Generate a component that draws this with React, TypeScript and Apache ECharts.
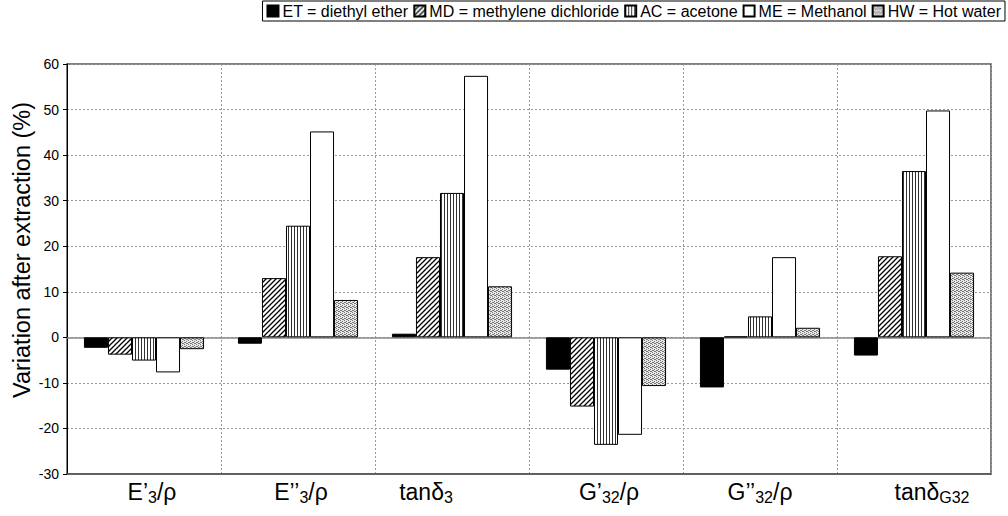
import React, { useEffect, useRef } from "react";
import * as echarts from "echarts";

const categories = ["E’3/ρ", "E’’3/ρ", "tanδ3", "G’32/ρ", "G’’32/ρ", "tanδG32"];
const categoryRich = [
  "{a|E’}{s|3}{a|/ρ}",
  "{a|E’’}{s|3}{a|/ρ}",
  "{a|tanδ}{s|3}",
  "{a|G’}{s|32}{a|/ρ}",
  "{a|G’’}{s|32}{a|/ρ}",
  "{a|tanδ}{s|G32}",
];
const seriesNames = [
  "ET = diethyl ether",
  "MD = methylene dichloride",
  "AC = acetone",
  "ME = Methanol",
  "HW = Hot water",
];
const ET = [-2.3, -1.4, 0.8, -7.1, -11.0, -4.0];
const MD = [-3.8, 13.0, 17.6, -15.2, 0.2, 17.8];
const AC = [-5.1, 24.5, 31.7, -23.6, 4.6, 36.5];
const ME = [-7.7, 45.2, 57.4, -21.4, 17.6, 49.8];
const HW = [-2.6, 8.2, 11.2, -10.7, 2.1, 14.2];
const yTicks = { min: -30, max: 60, interval: 10 };
const yTitle = "Variation after extraction (%)";

// layout: horizontal shift of each category label (px, + = right)
const LABEL_SHIFT = [8, 3, -26, 3, 0, 18];

const FONT = "'Liberation Sans', Arial, sans-serif";

function makePattern(kind: string): any {
  const c = document.createElement("canvas");
  const ctx = c.getContext("2d")!;
  if (kind === "diag") {
    c.width = 5; c.height = 5;
    ctx.fillStyle = "#fff"; ctx.fillRect(0, 0, 5, 5);
    ctx.strokeStyle = "#000"; ctx.lineWidth = 1.3;
    ctx.beginPath();
    ctx.moveTo(-1, 6); ctx.lineTo(6, -1);
    ctx.moveTo(-1, 1); ctx.lineTo(1, -1);
    ctx.moveTo(4, 6); ctx.lineTo(6, 4);
    ctx.stroke();
  } else if (kind === "vert") {
    c.width = 3; c.height = 3;
    ctx.fillStyle = "#fff"; ctx.fillRect(0, 0, 3, 3);
    ctx.fillStyle = "#333"; ctx.fillRect(0, 0, 1, 3);
  } else {
    c.width = 4; c.height = 4;
    ctx.fillStyle = "#e8e8e8"; ctx.fillRect(0, 0, 4, 4);
    ctx.fillStyle = "#777";
    ctx.fillRect(0, 0, 1, 1); ctx.fillRect(2, 1, 1, 1);
    ctx.fillRect(1, 2, 1, 1); ctx.fillRect(3, 3, 1, 1);
    ctx.fillRect(2, 3, 1, 1); ctx.fillRect(0, 2, 1, 1);
  }
  return { image: c, repeat: "repeat" };
}

export default function App() {
  const ref = useRef<HTMLDivElement>(null);
  useEffect(() => {
    const chart = echarts.init(ref.current!, null, { renderer: "svg" });
    const fills = ["#000", makePattern("diag"), makePattern("vert"), "#fff", makePattern("dots")];
    const values = [ET, MD, AC, ME, HW];
    const shifted = (i: number) => {
      const sh = LABEL_SHIFT[i] || 0;
      const padL = sh > 0 ? `{p${2 * sh}|}` : "";
      const padR = sh < 0 ? `{p${-2 * sh}|}` : "";
      return padL + categoryRich[i] + padR;
    };
    const rich: any = {
      a: { fontSize: 23, fontFamily: FONT, color: "#000", lineHeight: 26, verticalAlign: "middle" },
      s: { fontSize: 16, fontFamily: FONT, color: "#000", lineHeight: 14, verticalAlign: "bottom" },
    };
    LABEL_SHIFT.forEach((sh) => {
      const w = Math.abs(2 * sh);
      if (w > 0) rich["p" + w] = { width: w, lineHeight: 14 };
    });
    chart.setOption({
      animation: false,
      backgroundColor: "#fff",
      legend: {
        right: 3,
        top: 1,
        padding: [2, 4, 2, 4],
        itemGap: 5,
        itemWidth: 11,
        itemHeight: 11,
        icon: "rect",
        borderColor: "#000",
        borderWidth: 1,
        textStyle: { fontSize: 16, fontFamily: FONT, color: "#000", padding: [0, 0, 0, -1] },
        data: seriesNames,
      },
      graphic: [
        {
          type: "text",
          x: 22,
          y: 250,
          rotation: Math.PI / 2,
          style: {
            text: yTitle,
            font: `23.5px ${FONT}`,
            fill: "#000",
            textAlign: "center",
            textVerticalAlign: "middle",
          },
        },
      ],
      grid: {
        left: 67,
        right: 17,
        top: 64,
        bottom: 42,
        show: true,
        borderColor: "#555",
        borderWidth: 1.5,
      },
      xAxis: {
        type: "category",
        data: categories,
        axisLine: { onZero: false, lineStyle: { color: "#555", width: 1.5 } },
        axisTick: { show: false },
        splitLine: {
          show: true,
          interval: 0,
          lineStyle: { color: "#999", type: [2, 2], width: 1 },
        },
        axisLabel: {
          margin: 5,
          interval: 0,
          formatter: (_v: string, i: number) => shifted(i),
          rich,
        },
      },
      yAxis: {
        type: "value",
        min: yTicks.min,
        max: yTicks.max,
        interval: yTicks.interval,
        axisLine: { show: true, lineStyle: { color: "#000", width: 1 } },
        axisTick: { show: true, length: 4, lineStyle: { color: "#000" } },
        axisLabel: { fontSize: 14, fontFamily: FONT, color: "#000", margin: 8 },
        splitLine: { show: true, lineStyle: { color: "#999", type: [2, 2], width: 1 } },
      },
      series: seriesNames.map((name, k) => ({
        name,
        type: "bar",
        data: values[k],
        barGap: "0%",
        barCategoryGap: "22%",
        itemStyle: { color: fills[k], borderColor: "#000", borderWidth: 1 },
        ...(k === 0
          ? {
              markLine: {
                silent: true,
                symbol: "none",
                label: { show: false },
                lineStyle: { color: "#888", type: "solid", width: 1.5 },
                data: [{ yAxis: 0 }],
                z: 1,
              },
            }
          : {}),
      })),
    });
    return () => chart.dispose();
  }, []);
  return (
    <div
      ref={ref}
      style={{ position: "absolute", left: 0, top: 0, width: 1008, height: 516 }}
    />
  );
}
